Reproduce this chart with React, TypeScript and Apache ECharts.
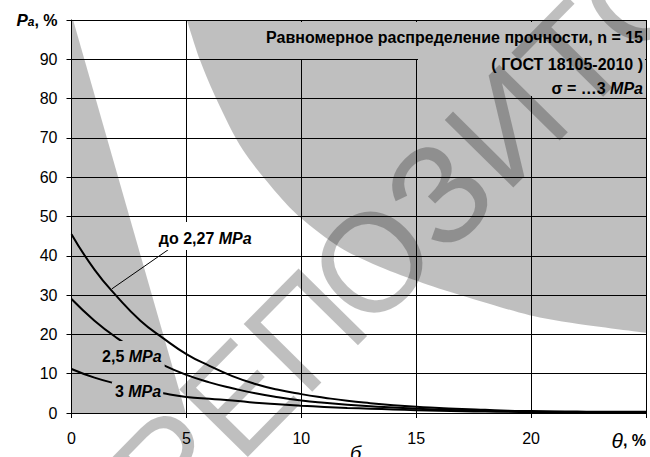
import React, { useEffect, useRef } from 'react';
import * as echarts from 'echarts';

// θ, % (x axis)
const theta = [0, 1, 2, 3, 4, 5, 6, 7, 8, 9, 10, 11, 12, 13, 14, 15, 16, 17, 18, 19, 20, 21, 22, 23, 24, 25];
// Pa, % for "до 2,27 MPa"
const curveA = [45.5, 36.5, 29.5, 23.5, 19.0, 15.0, 12.0, 9.4, 7.4, 5.9, 4.8, 3.9, 3.1, 2.5, 2.0, 1.6, 1.3, 1.0, 0.8, 0.6, 0.5, 0.4, 0.35, 0.3, 0.3, 0.3];
// Pa, % for "2,5 MPa"
const curveB = [29.0, 23.5, 19.0, 15.3, 12.2, 9.7, 7.8, 6.3, 5.0, 4.0, 3.2, 2.6, 2.1, 1.7, 1.4, 1.1, 0.9, 0.7, 0.55, 0.45, 0.35, 0.3, 0.25, 0.2, 0.2, 0.2];
// Pa, % for "3 MPa"
const curveC = [11.2, 9.0, 7.4, 6.1, 5.0, 4.1, 3.6, 3.2, 2.6, 2.2, 1.85, 1.55, 1.3, 1.1, 0.9, 0.7, 0.55, 0.45, 0.35, 0.3, 0.25, 0.2, 0.2, 0.15, 0.15, 0.15];

// shaded (watermark) regions in data coordinates
const upperShade = [
  [5.02, 100], [5.59, 89.8], [6.33, 79.6], [7.46, 66.9], [9.07, 55.0], [9.93, 49.9],
  [11.67, 42.2], [13.41, 37.2], [15.28, 33.1], [17.2, 29.5], [18.63, 27.0], [19.93, 24.9],
  [21.8, 22.9], [25, 20.4],
];
const leftShade = [[0, 100], [0.07, 100], [4.97, 0]];

const yTicks = [0, 10, 20, 30, 40, 50, 60, 70, 80, 90, 100];
const xTicks = [0, 5, 10, 15, 20, 25];

const titleLine1 = 'Равномерное распределение прочности, n = 15';
const titleLine2 = '( ГОСТ 18105-2010 )';
const titleLine3 = 'σ = …3 {i|MPa}';
const labelA = 'до 2,27 {i|MPa}';
const labelB = '2,5 {i|MPa}';
const labelC = '3 {i|MPa}';
// annotation anchor points (data coords): text start
const labelAPos = [3.8, 44.5];
const labelBPos = [1.33, 14.5];
const labelCPos = [1.89, 5.5];
const leaderFrom = [4.37, 42.2];
const leaderTo = [1.76, 31.6];
const watermarkLetters = ['Р', 'Е', 'П', 'О', 'З', 'И', 'Т', 'О', 'Р', 'И', 'Й'];

const FONT = 'Liberation Sans';

export default function App() {
  const ref = useRef<HTMLDivElement>(null);
  useEffect(() => {
    if (!ref.current) return;
    const chart = echarts.init(ref.current, null, { renderer: 'svg' });
    const lineSeries = (data: number[]) => ({
      type: 'line',
      data: theta.map((t, i) => [t, data[i]]),
      smooth: true,
      symbol: 'none',
      lineStyle: { color: '#000', width: 2 },
      z: 2,
      silent: true,
    });
    const shade = (data: number[][], origin: string, smooth: number | boolean) => ({
      type: 'line',
      data,
      smooth,
      symbol: 'none',
      lineStyle: { width: 0, color: 'rgba(0,0,0,0)' },
      areaStyle: { color: 'rgba(0,0,0,0.25)', origin, opacity: 1 },
      z: 4,
      silent: true,
    });
    chart.setOption({
      animation: false,
      backgroundColor: '#fff',
      grid: { left: 71.5, right: 4, top: 20, bottom: 44, containLabel: false },
      xAxis: {
        type: 'value',
        min: 0,
        max: 25,
        interval: 5,
        axisLine: { lineStyle: { color: '#000', width: 1 } },
        axisTick: { show: true, length: 5, lineStyle: { color: '#000' } },
        splitLine: { show: true, lineStyle: { color: '#000', width: 1 } },
        axisLabel: {
          margin: 17,
          color: '#000',
          fontSize: 16,
          fontFamily: FONT,
          alignMaxLabel: 'right',
          formatter: (v: number) => (v === xTicks[xTicks.length - 1] ? '{t|θ}{b|, %}' : String(v)),
          rich: {
            t: { fontSize: 21, fontStyle: 'italic', fontFamily: FONT, color: '#000' },
            b: { fontSize: 16, fontWeight: 'bold', fontFamily: FONT, color: '#000' },
          },
        },
      },
      yAxis: {
        type: 'value',
        min: 0,
        max: 100,
        interval: 10,
        axisLine: { show: true, lineStyle: { color: '#000', width: 1 } },
        axisTick: { show: true, length: 5, lineStyle: { color: '#000' } },
        splitLine: { show: true, lineStyle: { color: '#000', width: 1 } },
        axisLabel: {
          margin: 14,
          color: '#000',
          fontSize: 16,
          fontFamily: FONT,
          formatter: (v: number) => (v === yTicks[yTicks.length - 1] ? '{P|P}{a|a}{b|, %}' : String(v)),
          rich: {
            P: { fontSize: 17, fontWeight: 'bold', fontStyle: 'italic', fontFamily: FONT, color: '#000' },
            a: { fontSize: 12, fontWeight: 'bold', fontStyle: 'italic', fontFamily: FONT, color: '#000', padding: [4, 0, 0, 0] },
            b: { fontSize: 16, fontWeight: 'bold', fontFamily: FONT, color: '#000' },
          },
        },
      },
      series: [
        lineSeries(curveA),
        lineSeries(curveB),
        lineSeries(curveC),
        shade(upperShade, 'end', 0.3),
        shade(leftShade, 'start', false),
      ],
    });

    const px = (p: number[]) => chart.convertToPixel({ gridIndex: 0 }, p) as number[];
    const richI = { i: { fontStyle: 'italic', fontWeight: 'bold', fontSize: 16, fontFamily: FONT, fill: '#000' } };
    const boxLabel = (text: string, pos: number[], pad: number[]) => {
      const p = px(pos);
      return {
        type: 'text',
        x: p[0] - pad[3],
        y: p[1] - 9 - pad[0],
        z: 3,
        style: {
          text,
          rich: richI,
          fontSize: 16,
          fontWeight: 'bold',
          fontFamily: FONT,
          fill: '#000',
          lineHeight: 18,
          align: 'left',
          verticalAlign: 'top',
          backgroundColor: '#fff',
          padding: pad,
        },
      };
    };
    const plainTitle = (text: string, y: number) => ({
      type: 'text',
      z: 3,
      x: 643,
      y,
      style: { text, fontSize: 16, fontWeight: 'bold', fontFamily: FONT, fill: '#000', align: 'right', verticalAlign: 'middle' },
    });
    const lf = px(leaderFrom);
    const lt = px(leaderTo);

    // watermark letters placed along a rotated baseline
    const ang = (45.4 * Math.PI) / 180;
    const step = 95.5;
    const ref0 = [372, 262];
    const wm = watermarkLetters.map((ch, k) => ({
      type: 'text',
      z: 5,
      silent: true,
      x: ref0[0] + (k - 3) * step * Math.cos(ang),
      y: ref0[1] - (k - 3) * step * Math.sin(ang),
      rotation: ang,
      style: { text: ch, fontSize: 140, fontFamily: FONT, fill: 'rgba(0,0,0,0.25)', align: 'center', verticalAlign: 'middle' },
    }));

    const graphic: any[] = [
      { type: 'rect', z: 3, shape: { x: 255, y: 22, width: 390, height: 37 }, style: { fill: '#fff' } },
      { type: 'rect', z: 3, shape: { x: 418, y: 59, width: 227, height: 37 }, style: { fill: '#fff' } },
      plainTitle(titleLine1, 37),
      plainTitle(titleLine2, 64),
      {
        type: 'text',
        z: 3,
        x: 643,
        y: 88,
        style: {
          text: titleLine3,
          rich: richI,
          fontSize: 16,
          fontWeight: 'bold',
          fontFamily: FONT,
          fill: '#000',
          align: 'right',
          verticalAlign: 'middle',
        },
      },
      { type: 'line', z: 3, shape: { x1: lf[0], y1: lf[1], x2: lt[0], y2: lt[1] }, style: { stroke: '#000', lineWidth: 1 } },
      boxLabel(labelA, labelAPos, [7, 3, 3, 2]),
      boxLabel(labelB, labelBPos, [6, 3, 2, 2]),
      boxLabel(labelC, labelCPos, [1, 2, 0, 3]),
      {
        type: 'text',
        z: 3,
        x: 350,
        y: 443,
        style: { text: 'б', fontSize: 20, fontStyle: 'italic', fontFamily: FONT, fill: '#000', align: 'left', verticalAlign: 'top' },
      },
      ...wm,
    ];
    chart.setOption({ graphic });
    return () => chart.dispose();
  }, []);
  return <div ref={ref} style={{ position: 'fixed', left: 0, top: 0, width: 650, height: 457 }} />;
}
